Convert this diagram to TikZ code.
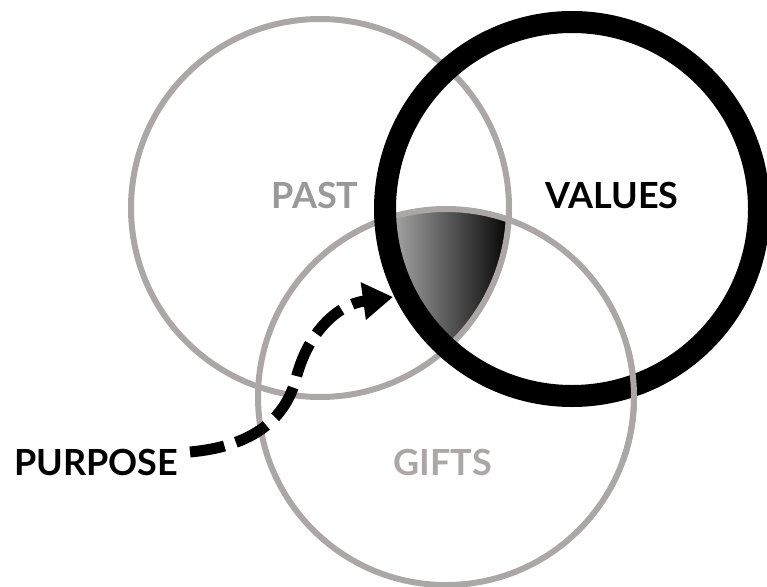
\documentclass[tikz,border=0pt]{standalone}
\usepackage{fontspec}
\setmainfont{Lato}
\usetikzlibrary{arrows.meta}
\definecolor{ringgray}{RGB}{171,167,167}
\definecolor{pastgray}{RGB}{153,153,153}
\definecolor{giftgray}{RGB}{171,167,167}
\tikzset{
  graycircle/.style={draw=ringgray, line width=6pt},
  blackcircle/.style={draw=black, line width=22pt},
  lbl/.style={font=\fontsize{36}{40}\selectfont\bfseries, inner sep=0pt},
  purposearrow/.style={draw=black, line width=11pt, dash pattern=on 35pt off 12pt,
    -{Triangle[length=30pt,width=36pt]}}
}
\begin{document}
\begin{tikzpicture}[x=1pt,y=-1pt]
\useasboundingbox (0,0) rectangle (767,586);
% shaded intersection
\begin{scope}
  \clip (320,208) circle (189);
  \clip (572,209) circle (187);
  \clip (446,397) circle (188);
  \shade[left color=black!35, right color=black] (392,195) rectangle (512,385);
\end{scope}
% circles
\draw[graycircle] (320,208) circle (189);
\draw[graycircle] (446,397) circle (188);
\draw[blackcircle] (572,209) circle (187);
% gifts ring over black on the right crossing
\draw[graycircle] (446,397) ++(-15:188) arc (-15:20:188);
% labels
\node[lbl, text=pastgray] (past) at (315,195) {PAST};
\node[lbl, text=black] (values) at (612,195) {VALUES};
\node[lbl, text=giftgray] (gifts) at (443,462) {GIFTS};
\node[lbl, text=black] (purpose) at (96,462) {PURPOSE};
% arrow
\coordinate (pstart) at (190,452);
\coordinate (ptip) at (393,297);
\draw[purposearrow] (pstart) .. controls (245,447) and (285,425) .. (297,375)
  .. controls (308,335) and (335,305) .. (ptip);
\end{tikzpicture}
\end{document}
